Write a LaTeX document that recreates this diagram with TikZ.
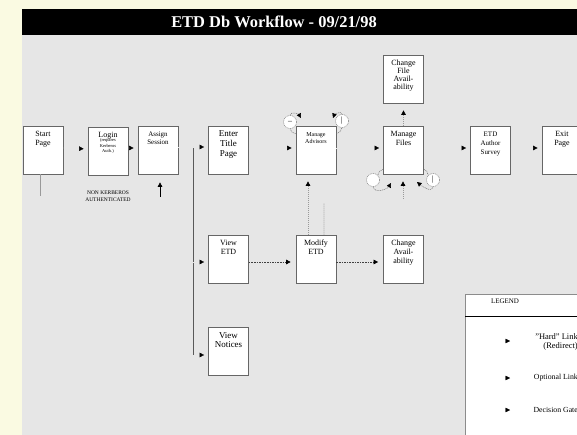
\documentclass[tikz,border=0pt]{standalone}
\usepackage{fontspec}
\setmainfont{Liberation Serif}
\usetikzlibrary{arrows.meta}

\definecolor{bggray}{RGB}{230,230,230}
\definecolor{pagecream}{RGB}{250,250,226}

% text of a page box, set at its top
\newcommand{\pg}[1]{\parbox[t][46bp][t]{38bp}{\centering\rule{0pt}{9.5bp}#1\par}}

\tikzset{
	pagebox/.style={fill=white, draw=black!60, line width=0.7bp, inner sep=1bp, font=\fontsize{8}{9}\selectfont},
	hardlink/.style={draw=bggray, -{Triangle[black,length=4.5bp,width=4.5bp]}, shorten >=4bp},
	optlink/.style={draw=black!75, line width=0.6bp, dash pattern=on 1.6bp off 1bp, -{Triangle[black,length=4.5bp,width=4.5bp]}, shorten >=5bp},
	dotlink/.style={draw=black!40, line width=0.6bp, dash pattern=on 1bp off 1bp, -{Triangle[black,length=4.5bp,width=4.5bp]}, shorten >=7bp},
	dotstub/.style={draw=black!40, line width=0.6bp, dash pattern=on 1bp off 1bp},
	gate/.style={circle, draw=black!50, line width=0.5bp, dash pattern=on 1bp off 0.8bp, fill=white, minimum size=13bp, inner sep=0pt, font=\fontsize{8}{8}\selectfont},
	gateloop/.style={draw=black!55, line width=0.5bp, dash pattern=on 1bp off 0.8bp},
	gatelink/.style={gateloop, -{Triangle[black,length=4.5bp,width=4.5bp]}},
	legendtext/.style={font=\fontsize{7.8}{9}\selectfont, align=right, anchor=east, inner sep=0pt}
}

\begin{document}
\begin{tikzpicture}[x=1bp, y=-1bp]
	\useasboundingbox (0,0) rectangle (577,435);
	\fill[pagecream] (0,0) rectangle (577,435);
	\fill[bggray] (22,35) rectangle (577,435);
	\fill[black] (22,9) rectangle (577,35);
	\node[text=white, font=\fontsize{16.5}{18}\selectfont\bfseries] (title) at (274,22) {ETD Db Workflow - 09/21/98};

	% top row
	\node[pagebox, font=\fontsize{8}{8.7}\selectfont] (start) at (43,150) {\pg{Start\\Page}};
	\node[pagebox] (login)    at (108,151)   {\pg{Login\\[-1.5bp]{\fontsize{4.5}{5.6}\selectfont (requires\\Kerberos\\Auth.)\par}}};
	\node[pagebox, font=\fontsize{7}{8.5}\selectfont] (assign) at (158,150) {\pg{Assign\\Session}};
	\node[pagebox, font=\fontsize{9}{10}\selectfont] (enter) at (228.5,150) {\pg{Enter\\Title\\Page}};
	\node[pagebox, font=\fontsize{6}{7}\selectfont] (advisors) at (316,150) {\pg{Manage\\Advisors}};
	\node[pagebox]            (files)    at (403.5,150) {\pg{Manage\\Files}};
	\node[pagebox, font=\fontsize{7}{9}\selectfont] (survey) at (490.5,150) {\pg{ETD\\Author\\Survey}};
	\node[pagebox]            (exit)     at (562,150)   {\pg{Exit\\Page}};
	\node[pagebox, font=\fontsize{8}{8}\selectfont] (chfile) at (403.5,79) {\pg{Change\\File\\Avail-\\ability}};

	% lower rows
	\node[pagebox] (viewetd) at (228.5,259)   {\pg{View\\ETD}};
	\node[pagebox] (modify)  at (316,259)     {\pg{Modify\\ETD}};
	\node[pagebox] (chavail) at (403.5,259)   {\pg{Change\\Avail-\\ability}};
	\node[pagebox, font=\fontsize{9}{10}\selectfont] (notices) at (228.5,351.5) {\pg{View\\Notices}};

	\draw[hardlink] ([yshift=2bp]start.east)  -- ([yshift=2bp]login.west);
	\draw[hardlink] ([yshift=3bp]login.east)  -- ([yshift=2bp]assign.west);
	\draw[hardlink] ([yshift=2bp]enter.east)  -- ([yshift=2bp]advisors.west);
	\draw[hardlink] ([yshift=2bp]advisors.east) -- ([yshift=2bp]files.west);
	\draw[hardlink] ([yshift=2bp]files.east)  -- ([yshift=2bp]survey.west);
	\draw[hardlink] ([yshift=2bp]survey.east) -- ([yshift=2bp]exit.west);

	% branch after the session
	\coordinate (fork) at (193,147);
	\coordinate (forkend) at (193,355);
	\draw[black!65, line width=0.9bp] (fork) -- (forkend);
	\draw[hardlink] (assign.east |- fork) -- (enter.west |- fork);
	\draw[hardlink] ([yshift=-3bp]viewetd.west -| fork) -- ([yshift=-3bp]viewetd.west);
	\draw[hardlink] (forkend) -- (forkend -| notices.west);

	% non kerberos entry
	\coordinate (startstub) at (40,196);
	\draw[black!40, line width=0.8bp] (start.south -| startstub) -- (startstub);
	\node[font=\fontsize{5.5}{7}\selectfont, align=center] (nonkerb) at (108,196) {NON KERBEROS\\AUTHENTICATED};
	\coordinate (nkfoot) at (160,197);
	\draw[black, line width=0.6bp, -{Triangle[black,length=4.5bp,width=4.5bp]}, shorten >=8bp] (nkfoot) -- (assign.south -| nkfoot);

	\draw[optlink] ([yshift=-3bp]viewetd.east) -- ([yshift=-3bp]modify.west);
	\draw[optlink] ([yshift=-3bp]modify.east) -- ([yshift=-3bp]chavail.west);

	\draw[dotlink] ([xshift=-8bp]modify.north) -- ([xshift=-8bp]advisors.south);
	\coordinate (modstub) at (324,203);
	\draw[dotstub] ([xshift=8bp]modify.north) -- (modstub);
	\coordinate (filestub) at (403,199);
	\draw[dotlink] (filestub) -- (files.south -| filestub);
	\draw[dotlink] (files.north) -- (chfile.south);

	% decision gates
	\node[gate] (advgateL)  at (290,122) {--};
	\node[gate] (advgateR)  at (342,121) {|};
	\node[gate] (filegateL) at (373,180) {};
	\node[gate] (filegateR) at (433,180) {|};

	\coordinate (advinL) at (301,118);
	\coordinate (advinR) at (333,118);
	\draw[gateloop] ([yshift=-8bp]advisors.north west) to[out=180,in=-70] (advgateL.south);
	\draw[gatelink] (advgateL.north) to[out=80,in=120] (advinL);
	\draw[gateloop] ([yshift=-8bp]advisors.north east) to[out=0,in=-110] (advgateR.south);
	\draw[gatelink] (advgateR.north) to[out=100,in=70] (advinR);

	\coordinate (fileinL) at (391,183);
	\coordinate (fileinR) at (417,182);
	\draw[gateloop] ([yshift=5bp]files.south west) to[out=180,in=70] (filegateL.north east);
	\draw[gatelink] (filegateL.south) to[out=-80,in=-120] (fileinL);
	\draw[gateloop] ([yshift=5bp]files.south east) to[out=0,in=110] (filegateR.north west);
	\draw[gatelink] (filegateR.south) to[out=-100,in=-40] (fileinR);

	% legend
	\node[draw=black!45, line width=0.7bp, fill=white, minimum width=118bp, minimum height=146bp, anchor=north west, inner sep=0pt] (legend) at (465,294) {};
	\node[font=\fontsize{7}{8}\selectfont] (legendtitle) at (505,301.5) {LEGEND};
	\draw[black, line width=0.7bp] (legend.west |- 0,316) -- (legend.east |- 0,316);

	\coordinate (lghardA) at (498,341);
	\coordinate (lghardB) at (510,341);
	\coordinate (lgoptA)  at (498,378);
	\coordinate (lgoptB)  at (510,378);
	\coordinate (lggateA) at (498,410);
	\coordinate (lggateB) at (510,410);
	\draw[hardlink, shorten >=0pt, draw=white] (lghardA) -- (lghardB);
	\draw[hardlink, shorten >=0pt, draw=white] (lgoptA) -- (lgoptB);
	\draw[hardlink, shorten >=0pt, draw=white] (lggateA) -- (lggateB);
	\node[legendtext, font=\fontsize{8.5}{9}\selectfont] (lghard) at (578,341.5) {"Hard" Link\\(Redirect)};
	\node[legendtext] (lgopt)  at (578,378)   {Optional Link};
	\node[legendtext] (lggate) at (578,410)   {Decision Gate};
\end{tikzpicture}
\end{document}
